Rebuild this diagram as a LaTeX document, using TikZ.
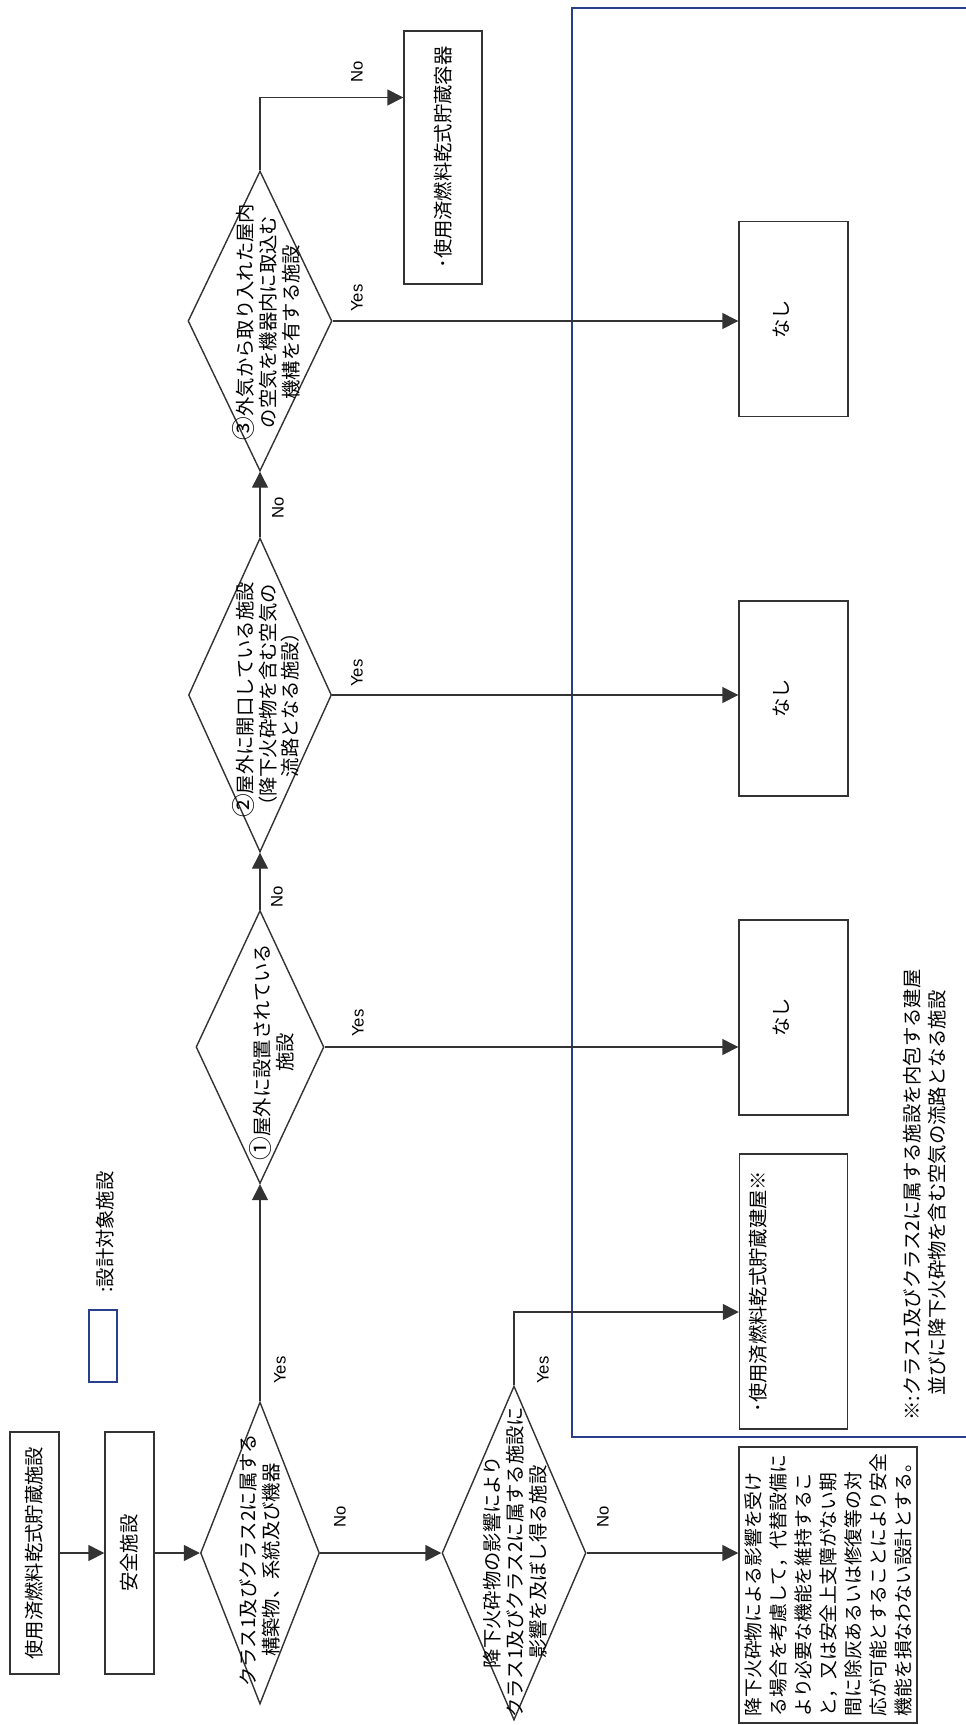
\documentclass[tikz,border=0pt]{standalone}
\usepackage{fontspec}
\setmainfont{Noto Sans CJK JP}
\newfontfamily\latinfont{Liberation Sans}
\usetikzlibrary{arrows.meta,shapes.geometric}
\definecolor{fenceblue}{HTML}{2A3F8C}
\definecolor{inkgray}{HTML}{333333}
\newcommand{\cnum}[1]{{\fontsize{13.5pt}{13pt}\selectfont #1}}
\tikzset{
  >={Triangle[length=3.2mm,width=3.2mm]},
  % 箱と判断
  box/.style={draw=inkgray,line width=0.8pt,rotate=90,inner sep=0pt,
              font=\fontsize{11pt}{13pt}\selectfont},
  nonebox/.style={box,minimum width=3.9cm,text height=0.99cm,text depth=1.19cm},
  dia/.style={diamond,draw=inkgray,line width=0.8pt,rotate=90,inner sep=0pt},
  dtxt/.style={rotate=90,align=center,inner sep=0pt,
               font=\fontsize{11pt}{13pt}\selectfont},
  yn/.style={rotate=90,inner sep=0pt,
             font=\latinfont\fontsize{9.5pt}{11pt}\selectfont},
  % 線
  arr/.style={->,draw=inkgray,line width=0.8pt},
  bluefence/.style={draw=fenceblue,line width=1.4pt},
}

\begin{document}
\begin{tikzpicture}[x=0.2mm,y=-0.2mm]
\useasboundingbox (0,0) rectangle (966,1725);
% 設計対象の枠
\draw[bluefence] (966,8) -- (572,8) -- (572,1437) -- (966,1437);
% 凡例
\node[box,draw=fenceblue,line width=1.1pt,minimum width=1.44cm,
      minimum height=0.56cm] (legend) at (103,1346) {};
\node[dtxt] (legendt) at (105,1232) {:設計対象施設};
% 左の列
\node[box,minimum width=4.84cm,minimum height=0.98cm] (plant) at (34.5,1553)
  {使用済燃料乾式貯蔵施設};
\node[box,minimum width=4.84cm,minimum height=0.98cm] (safety) at (129.5,1553)
  {安全施設};
\node[dia,minimum width=6.04cm,minimum height=2.38cm] (q1) at (260,1553) {};
\node[dtxt] (q1t) at (260,1560) {クラス1及びクラス2に属する\\構築物、系統及び機器};
\node[dia,minimum width=6.68cm,minimum height=2.88cm] (q2) at (514,1553) {};
\node[dtxt] (q2t) at (515,1562)
  {降下火砕物の影響により\\クラス1及びクラス2に属する施設に\\影響を及ぼし得る施設};
\node[box,align=left,font=\fontsize{10.7pt}{14.2pt}\selectfont,
      minimum width=5.52cm,minimum height=3.56cm] (res) at (828,1585)
  {降下火砕物による影響を受け\\る場合を考慮して，代替設備に\\より必要な機能を維持するこ\\と，又は安全上支障がない期\\間に除灰あるいは修復等の対\\応が可能とすることにより安全\\機能を損なわない設計とする。};
% 判断 ①〜③
\node[dia,minimum width=5.46cm,minimum height=2.56cm] (qa) at (260,1047) {};
\node[dtxt] (qat) at (272,1052) {\cnum{①}屋外に設置されている\\施設};
\node[dia,minimum width=6.28cm,minimum height=2.86cm] (qb) at (260,695) {};
\node[dtxt] (qbt) at (266,700)
  {\cnum{②}屋外に開口している施設\\（降下火砕物を含む空気の\\流路となる施設）};
\node[dia,minimum width=6.0cm,minimum height=2.88cm] (qc) at (260,321) {};
\node[dtxt] (qct) at (266,322)
  {\cnum{③}外気から取り入れた屋内\\の空気を機器内に取込む\\機構を有する施設};
\node[box,minimum width=5.06cm,minimum height=1.56cm] (cask) at (443,157.5)
  {･使用済燃料乾式貯蔵容器};
% 結果
\node[nonebox] (none1) at (793.5,319) {なし};
\node[nonebox] (none2) at (793.5,698.5) {なし};
\node[nonebox] (none3) at (793.5,1017.5) {なし};
\node[box,minimum width=5.5cm,text height=0.51cm,text depth=1.65cm] (bldg)
  at (793.5,1291.5) {･使用済燃料乾式貯蔵建屋※};
\node[dtxt,align=left,font=\fontsize{11pt}{14.2pt}\selectfont] (note) at (924.5,1195)
  {※:クラス1及びクラス2に属する施設を内包する建屋\\\hphantom{※:}並びに降下火砕物を含む空気の流路となる施設};
% 矢印
\draw[arr] (plant) -- (safety);
\draw[arr] (safety) -- (q1);
\draw[arr] (q1) -- (qa);
\draw[arr] (q1) -- (q2);
\draw[arr] (q2) -- (res.north |- q2);
\draw[arr] (q2) |- ([yshift=-0.41cm]bldg.north);
\draw[arr] (qa) -- (qb);
\draw[arr] (qb) -- (qc);
\draw[arr] (qa) -- (none3.north |- qa);
\draw[arr] (qb) -- (none2.north |- qb);
\draw[arr] (qc) -- (none1.north |- qc);
\draw[arr] (qc) |- ([yshift=1.2cm]cask.north);
% Yes / No
\node[yn] (y1) at (280,1370) {Yes};
\node[yn] (n1) at (340,1517) {No};
\node[yn] (y2) at (543,1370) {Yes};
\node[yn] (n2) at (603,1517) {No};
\node[yn] (ya) at (358,1023) {Yes};
\node[yn] (na) at (277,897) {No};
\node[yn] (yb) at (357,673) {Yes};
\node[yn] (nb) at (278,508) {No};
\node[yn] (yc) at (357,298) {Yes};
\node[yn] (nc) at (357,72) {No};
\end{tikzpicture}
\end{document}
